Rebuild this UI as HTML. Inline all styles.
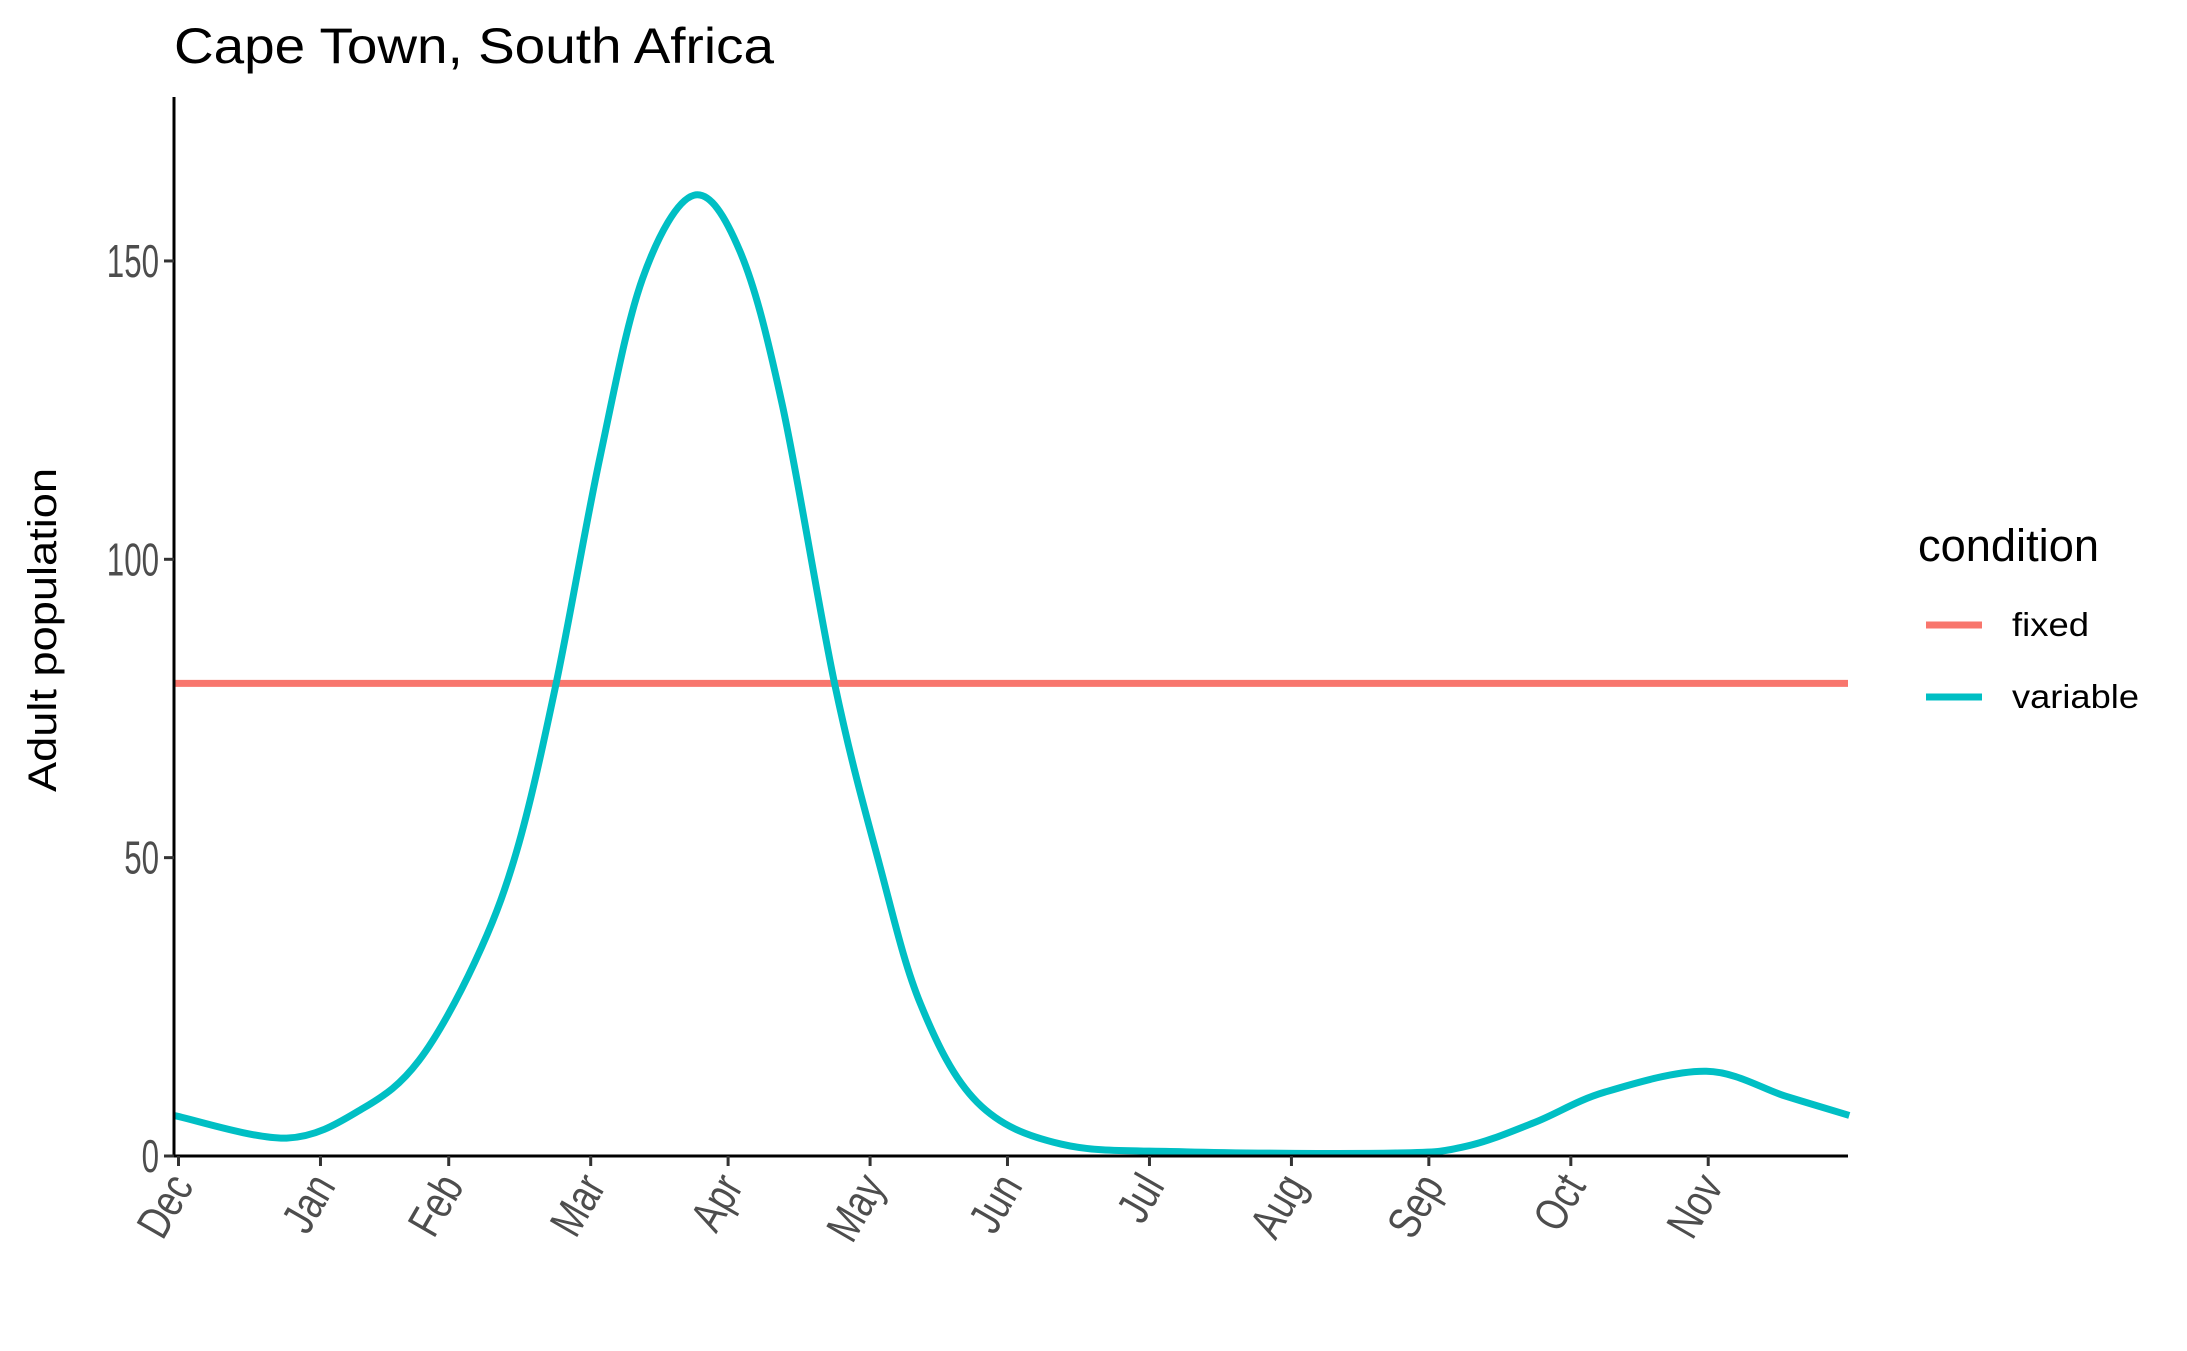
<!DOCTYPE html>
<html><head><meta charset="utf-8"><style>
html,body{margin:0;padding:0;background:#fff}
svg{display:block;font-family:"Liberation Sans",Arial,sans-serif}
</style></head><body>
<svg id="chart" width="2187" height="1351" viewBox="0 0 2187 1351" xmlns="http://www.w3.org/2000/svg">
<text x="174" y="63" font-size="50" fill="#000" textLength="600" lengthAdjust="spacingAndGlyphs">Cape Town, South Africa</text>
<g id="plot"></g>
<text transform="translate(56,630) rotate(-90)" text-anchor="middle" font-size="40" fill="#000" textLength="324" lengthAdjust="spacingAndGlyphs">Adult population</text>
<g>
<text x="1918" y="561" font-size="45" fill="#000" textLength="181" lengthAdjust="spacingAndGlyphs">condition</text>
<line x1="1926" y1="625" x2="1982" y2="625" stroke="#F8766D" stroke-width="7"/>
<text x="2012" y="636" font-size="33" fill="#000" textLength="77" lengthAdjust="spacingAndGlyphs">fixed</text>
<line x1="1926" y1="697" x2="1982" y2="697" stroke="#00BFC4" stroke-width="7"/>
<text x="2012" y="708" font-size="33" fill="#000" textLength="127" lengthAdjust="spacingAndGlyphs">variable</text>
</g>
</svg>
<script>
const months = ["Dec","Jan","Feb","Mar","Apr","May","Jun","Jul","Aug","Sep","Oct","Nov"];
const monthDays = [0,31,59,90,120,151,181,212,243,273,304,334];
const yTicks = [0,50,100,150];
const fixedValue = 79.2;
const varDays = [-1,23.6,40.3,52.5,64.7,73.8,82.4,92,101.3,112.5,122.6,131.8,143.3,153,162,174.4,192.7,220,265.8,281,296,311.4,333.6,351,364.8];
const varValues = [6.8,3,8,16,32.5,51,79,117,147,161,151.6,126,79,49,25.5,9,2,0.7,0.5,1.6,5.6,10.7,14.2,10,6.8];

const NS="http://www.w3.org/2000/svg";
const g=document.getElementById('plot');
const X0=174,X1=1848,Y0=1156;
const xs=d=>178.5+4.58*d;
const ys=v=>Y0-5.967*v;
function mk(t,a){const e=document.createElementNS(NS,t);for(const k in a)e.setAttribute(k,a[k]);g.appendChild(e);return e;}
function squeeze(e,r){const w=e.getComputedTextLength();e.setAttribute('textLength',w*r);e.setAttribute('lengthAdjust','spacingAndGlyphs');}

let fl=mk('line',{x1:X0,x2:X1,y1:ys(fixedValue),y2:ys(fixedValue),stroke:'#F8766D','stroke-width':7});



const P=varDays.map((d,i)=>[xs(d),ys(varValues[i])]);
let dstr=`M${P[0][0]},${P[0][1]}`;
for(let i=0;i<P.length-1;i++){
  const p0=P[Math.max(0,i-1)],p1=P[i],p2=P[i+1],p3=P[Math.min(P.length-1,i+2)];
  const c1=[p1[0]+(p2[0]-p0[0])/6,p1[1]+(p2[1]-p0[1])/6];
  const c2=[p2[0]-(p3[0]-p1[0])/6,p2[1]-(p3[1]-p1[1])/6];
  dstr+=` C${c1[0]},${c1[1]} ${c2[0]},${c2[1]} ${p2[0]},${p2[1]}`;
}
let vl=mk('path',{d:dstr,fill:'none',stroke:'#00BFC4','stroke-width':7,'stroke-linejoin':'round'});



let ya=mk('line',{x1:X0,x2:X0,y1:97,y2:Y0+1.5,stroke:'#000','stroke-width':3});


let xa=mk('line',{x1:X0-1.5,x2:X1,y1:Y0,y2:Y0,stroke:'#000','stroke-width':3});



yTicks.forEach(v=>{
  let t=mk('line',{x1:X0-10,x2:X0,y1:ys(v),y2:ys(v),stroke:'#333','stroke-width':3});
  
  
  let l=mk('text',{x:X0-15,y:ys(v)+16,'text-anchor':'end','font-size':46,fill:'#4d4d4d'});
  l.textContent=v;
  
  
  squeeze(l,0.68);
});
months.forEach((m,i)=>{
  const x=xs(monthDays[i]);
  let t=mk('line',{x1:x,x2:x,y1:Y0,y2:Y0+10,stroke:'#333','stroke-width':3});
  
  
  let l=mk('text',{transform:`translate(${x+16},${Y0+30}) rotate(-60)`,'text-anchor':'end','font-size':46,fill:'#4d4d4d'});
  l.textContent=m;
  
  
  squeeze(l,0.78);
});
</script>
</body></html>
